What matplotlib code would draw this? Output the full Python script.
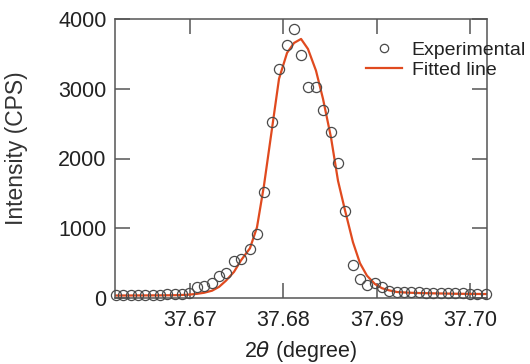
import matplotlib
matplotlib.use("Agg")
import matplotlib.pyplot as plt
from matplotlib.lines import Line2D

plt.rcParams['font.family'] = ['Liberation Sans', 'DejaVu Sans']
plt.rcParams['mathtext.fontset'] = 'dejavusans'

two_theta = [37.66209, 37.66284, 37.66369, 37.66444, 37.66519, 37.66605, 37.66680,
             37.66755, 37.66840, 37.66915, 37.66990, 37.67076, 37.67151, 37.67237,
             37.67312, 37.67387, 37.67472, 37.67547, 37.67643, 37.67718, 37.67793,
             37.67879, 37.67954, 37.68040, 37.68115, 37.68190, 37.68264, 37.68350,
             37.68425, 37.68511, 37.68586, 37.68661, 37.68746, 37.68821, 37.68896,
             37.68982, 37.69057, 37.69132, 37.69217, 37.69292, 37.69367, 37.69453,
             37.69528, 37.69603, 37.69688, 37.69763, 37.69838, 37.69924, 37.69999,
             37.70074, 37.70171]

experimental = [43, 40, 45, 43, 50, 45, 50, 55, 60, 60, 70, 157, 171, 214, 314, 357,
                529, 557, 700, 914, 1514, 2529, 3286, 3629, 3857, 3486, 3029, 3029,
                2700, 2386, 1929, 1243, 471, 271, 186, 214, 157, 100, 90, 86, 80, 80,
                75, 75, 70, 70, 65, 65, 60, 60, 55]

fitted = [36, 36, 36, 37, 37, 38, 38, 39, 40, 43, 48, 60, 75, 105, 160, 250, 375,
          540, 714, 1014, 1614, 2430, 3143, 3514, 3657, 3714, 3571, 3260, 2857, 2300,
          1680, 1257, 800, 500, 320, 200, 140, 110, 86, 80, 75, 71, 69, 67, 65, 63,
          61, 60, 59, 58, 57]

x_ticks = [37.67, 37.68, 37.69, 37.70]
x_tick_labels = ["37.67", "37.68", "37.69", "37.70"]
y_ticks = [0, 1000, 2000, 3000, 4000]
y_tick_labels = ["0", "1000", "2000", "3000", "4000"]

W, H = 530, 364
fig = plt.figure(figsize=(W / 100, H / 100), dpi=100)
ax = fig.add_axes([115 / W, 1 - 298 / H, (487 - 115) / W, (298 - 19) / H])

red = '#e04a1f'
edge = '#4a4a4a'
spine_c = '#555555'

ax.plot(two_theta, fitted, color=red, lw=1.6, zorder=2, clip_on=False)
ax.plot(two_theta, experimental, linestyle='none', marker='o', markersize=7.3,
        markerfacecolor='none', markeredgecolor=edge, markeredgewidth=0.9,
        zorder=3, clip_on=False)

ax.set_xlim(37.66197, 37.70182)
ax.set_ylim(0, 4000)
ax.set_xticks(x_ticks)
ax.set_xticklabels(x_tick_labels)
ax.set_yticks(y_ticks)
ax.set_yticklabels(y_tick_labels)

for s in ax.spines.values():
    s.set_color(spine_c)
    s.set_linewidth(1.1)

ax.tick_params(axis='both', which='major', direction='in', length=11, width=1.1,
               color=spine_c, labelsize=15.5, labelcolor='#222222',
               top=True, right=True)
ax.tick_params(axis='x', pad=9)
ax.tick_params(axis='y', pad=6)

fig.text(16.5 / W, 1 - 148 / H, "Intensity (CPS)", rotation=90, ha='center',
         va='center', fontsize=16.5, color='#333333')
fig.text(300 / W, 1 - 351 / H, r"2$\theta$ (degree)", ha='center', va='center',
         fontsize=15.5, color='#222222')

handles = [Line2D([], [], linestyle='none', marker='o', markersize=6,
                  markerfacecolor='none', markeredgecolor=edge, markeredgewidth=0.9),
           Line2D([], [], color=red, lw=1.6)]
leg = fig.legend(handles, ["Experimental", "Fitted line"], loc='upper left',
                 bbox_to_anchor=(366 / W, 1 - 41 / H), frameon=False,
                 fontsize=14, handlelength=1.85, handletextpad=0.5,
                 borderpad=0, borderaxespad=0, labelspacing=0.15)
for t in leg.get_texts():
    t.set_color('#222222')

fig.savefig("out.png", dpi=100)
